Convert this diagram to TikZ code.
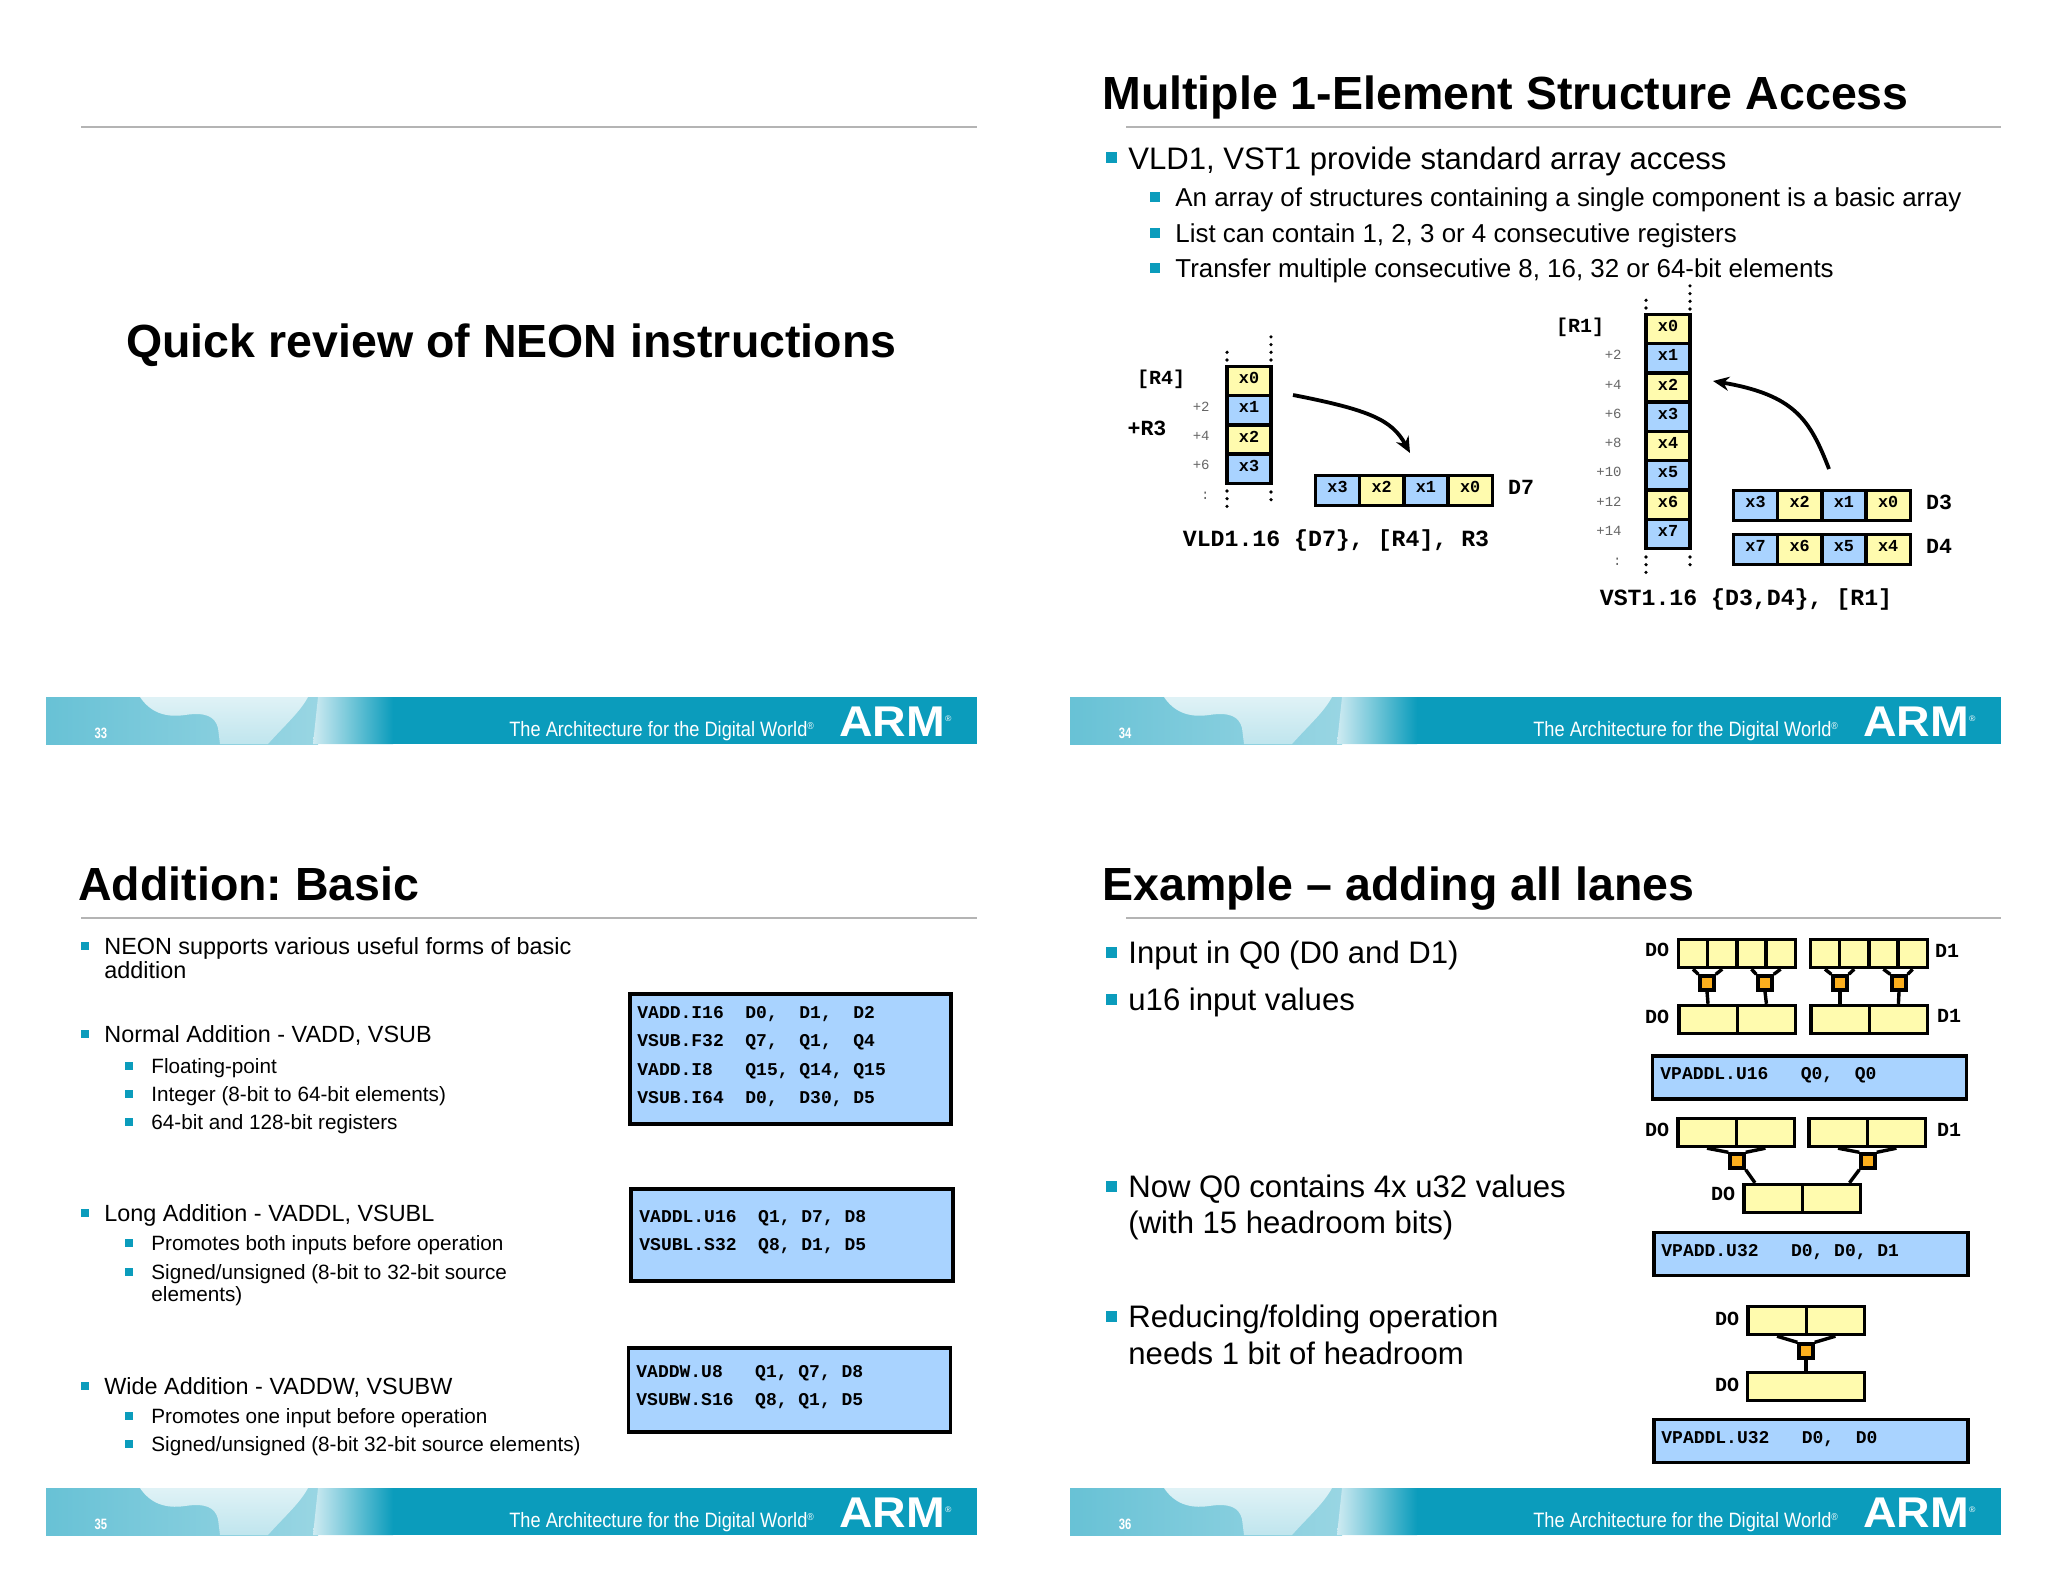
\documentclass[tikz,border=0pt]{standalone}
\usepackage{fontspec}
\setmainfont{Liberation Sans}
\setmonofont{Liberation Mono}
\usetikzlibrary{arrows.meta}
\definecolor{lanecol}{HTML}{FFFBAE}
\definecolor{wordcol}{HTML}{A9D3FF}
\definecolor{addcol}{HTML}{FBAF1E}
\definecolor{armcol}{HTML}{0B9CBC}
\definecolor{rulecol}{HTML}{B4B4B4}
\tikzset{
  headtxt/.style={anchor=west,inner sep=0,text height=16.7pt,text depth=0pt,font=\fontsize{23.25}{27}\selectfont\bfseries},
  bigtxt/.style={anchor=west,inner sep=0,text height=11.2pt,text depth=0pt,font=\fontsize{15.55}{18}\selectfont},
  smalltxt/.style={anchor=west,inner sep=0,text height=9.3pt,text depth=0pt,font=\fontsize{12.95}{16}\selectfont},
  sidetxt/.style={anchor=west,inner sep=0,text height=8.4pt,text depth=0pt,font=\fontsize{11.7}{14}\selectfont},
  subtxt/.style={anchor=west,inner sep=0,text height=7.5pt,text depth=0pt,font=\fontsize{10.35}{12}\selectfont},
  bigdot/.style={fill=armcol,inner sep=0,minimum size=5.5pt},
  smalldot/.style={fill=armcol,inner sep=0,minimum size=4.8pt},
  sidedot/.style={fill=armcol,inner sep=0,minimum size=4.2pt},
  subdot/.style={fill=armcol,inner sep=0,minimum size=3.6pt},
  cell/.style={draw,line width=1.7pt,inner sep=0,text height=3pt,text depth=.5pt,font=\fontsize{8.4}{10}\selectfont\ttfamily\bfseries},
  memcell/.style={cell,minimum width=22pt,minimum height=14.7pt},
  regcell/.style={cell,minimum width=22.1pt,minimum height=15pt},
  lane/.style={draw,line width=1.7pt,fill=lanecol,inner sep=0,minimum height=14pt},
  addbox/.style={draw,line width=1.7pt,fill=addcol,inner sep=0,minimum size=7pt},
  link/.style={line width=1.7pt},
  codebox/.style={draw,line width=1.9pt,fill=wordcol,inner sep=0},
  codetxt/.style={anchor=west,inner sep=0,align=left,font=\fontsize{9}{14.2}\selectfont\ttfamily\bfseries},
  regname/.style={inner sep=0,font=\fontsize{10.8}{12}\selectfont\ttfamily\bfseries},
  ptrname/.style={regname,font=\fontsize{10}{12}\selectfont\ttfamily\bfseries},
  insname/.style={regname,font=\fontsize{11.6}{13}\selectfont\ttfamily\bfseries},
  offs/.style={anchor=east,inner sep=0,text=black!60,font=\fontsize{7}{8}\selectfont\ttfamily},
  memdots/.style={line width=1.8pt,line cap=round,dash pattern=on 0pt off 3.85pt},
  flow/.style={line width=1.9pt,-{Stealth[length=8pt,width=7pt]}}
}
\begin{document}
\frenchspacing
\begin{tikzpicture}[x=.5pt,y=-.5pt]
\useasboundingbox (0,0) rectangle (2048,1582);
\foreach \bx/\by/\num in {0/0/33,1024/0/34,0/791/35,1024/791/36}{
  \begin{scope}[shift={(\bx,\by)}]
    \fill[armcol] (46,697) rectangle (977,744);
    \shade[left color=armcol!62!white,right color=armcol!42!white] (46,697) rectangle (318,744);
    \shade[top color=armcol!13!white,bottom color=armcol!26!white] (140,697) .. controls (150,712) and (165,718) .. (185,715) .. controls (205,712) and (215,716) .. (218,728) -- (220,744) -- (268,744) .. controls (285,725) and (300,712) .. (308,697) -- cycle;
    \shade[left color=armcol!20!white,right color=armcol] (318,697) -- (393,697) -- (393,744) -- (313,744) -- cycle;
    \node[inner sep=0,text=white,xscale=.75,transform shape,font=\fontsize{7.5}{8}\selectfont\bfseries] (page\num) at (101,733) {\num};
    \node[inner sep=0,text=white,anchor=west,xscale=.875,transform shape,font=\fontsize{10.4}{12}\selectfont] (tag\num) at (509,731) {The Architecture for the Digital World\textsuperscript{\fontsize{5}{5}\selectfont ®}};
    \node[inner sep=0,text=white,anchor=west,xscale=1.08,transform shape,font=\fontsize{21.5}{24}\selectfont\bfseries] (arm\num) at (839,722) {ARM\textsuperscript{\fontsize{4}{4}\selectfont\mdseries ®}};
  \end{scope}
  \draw[rulecol,line width=.8pt] ({81+\bx*1.0205},{127+\by}) -- (977+\bx,127+\by);
}

\node[headtxt] (cover) at (126,341) {Quick review of NEON instructions};
\node[headtxt] (title34) at (1102,93) {Multiple 1-Element Structure Access};
\node[headtxt] (title35) at (78,884) {Addition: Basic};
\node[headtxt] (title36) at (1102,884) {Example -- adding all lanes};

\foreach \y/\t [count=\i] in {158/{VLD1, VST1 provide standard array access}}{
  \node[bigdot] (dota\i) at (1111,\y) {};
  \node[bigtxt] (texta\i) at (1128,\y) {\t};
}
\foreach \y/\t [count=\i] in {197/{An array of structures containing a single component is a basic array},233/{List can contain 1, 2, 3 or 4 consecutive registers},268/{Transfer multiple consecutive 8, 16, 32 or 64-bit elements}}{
  \node[smalldot] (dotb\i) at (1155,\y) {};
  \node[smalltxt] (textb\i) at (1175,\y) {\t};
}
\foreach \y/\t [count=\i] in {946/{NEON supports various useful forms of basic},1034/{Normal Addition - VADD, VSUB},1213/{Long Addition - VADDL, VSUBL},1386/{Wide Addition - VADDW, VSUBW}}{
  \node[sidedot] (dotc\i) at (85,\y) {};
  \node[sidetxt] (textc\i) at (104,\y) {\t};
}
\node[sidetxt] (textc5) at (104,970) {addition};
\foreach \y/\t [count=\i] in {1066/{Floating-point},1094/{Integer (8-bit to 64-bit elements)},1122/{64-bit and 128-bit registers},1243/{Promotes both inputs before operation},1272/{Signed/unsigned (8-bit to 32-bit source},1416/{Promotes one input before operation},1444/{Signed/unsigned (8-bit 32-bit source elements)}}{
  \node[subdot] (dotd\i) at (129,\y) {};
  \node[subtxt] (textd\i) at (151,\y) {\t};
}
\node[subtxt] (textd8) at (151,1294) {elements)};
\foreach \y/\t [count=\i] in {952/{Input in Q0 (D0 and D1)},999/{u16 input values},1186/{Now Q0 contains 4x u32 values},1316/{Reducing/folding operation}}{
  \node[bigdot] (dote\i) at (1111,\y) {};
  \node[bigtxt] (texte\i) at (1128,\y) {\t};
}
\node[bigtxt] (texte5) at (1128,1222) {(with 15 headroom bits)};
\node[bigtxt] (texte6) at (1128,1353) {needs 1 bit of headroom};

\foreach \t/\c [count=\i from 0] in {x0/lanecol,x1/wordcol,x2/lanecol,x3/wordcol}
  \node[memcell,fill=\c] (mema\i) at (1249,{381+29.3*\i}) {\t};
\foreach \n/\c [count=\i from 0] in {x3/wordcol,x2/lanecol,x1/wordcol,x0/lanecol}
  \node[regcell,fill=\c] (regd\i) at ({1337.5+44.2*\i},490.5) {\n};
\foreach \t/\y [count=\i] in {+2/407,+4/436,+6/465}
  \node[offs] (offa\i) at (1210,\y) {\t};
\node[offs] (offa4) at (1210,496) {:};
\node[ptrname] (ptra) at (1161,379) {[R4]};
\node[regname] (stepa) at (1147,428) {+R3};
\node[regname] (named) at (1521,487) {D7};
\node[insname] (insa) at (1336,541) {VLD1.16 \{D7\}, [R4], R3};
\draw[memdots] (1227,360) -- (1227,350);
\draw[memdots] (1271,360) -- (1271,336);
\draw[memdots] (1227,491) -- (1227,508);
\draw[memdots] (1271,492) -- (1271,501);
\coordinate (loadfrom) at (1293,395);
\coordinate (loadto) at (1410,453);
\draw[flow] (loadfrom) .. controls (1370,410) and (1392,420) .. (loadto);

\foreach \t/\c [count=\i from 0] in {x0/lanecol,x1/wordcol,x2/lanecol,x3/wordcol,x4/lanecol,x5/wordcol,x6/lanecol,x7/wordcol}
  \node[memcell,fill=\c] (memb\i) at (1668,{329+29.3*\i}) {\t};
\foreach \n/\c [count=\i from 0] in {x3/wordcol,x2/lanecol,x1/wordcol,x0/lanecol}
  \node[regcell,fill=\c] (regl\i) at ({1755.5+44.2*\i},505.5) {\n};
\foreach \n/\c [count=\i from 0] in {x7/wordcol,x6/lanecol,x5/wordcol,x4/lanecol}
  \node[regcell,fill=\c] (regh\i) at ({1755.5+44.2*\i},549.5) {\n};
\foreach \t/\y [count=\i] in {+2/355,+4/385,+6/414,+8/443,+10/472,+12/502,+14/531}
  \node[offs] (offb\i) at (1622,\y) {\t};
\node[offs] (offb8) at (1622,562) {:};
\node[ptrname] (ptrb) at (1580,327) {[R1]};
\node[regname] (namel) at (1939,502) {D3};
\node[regname] (nameh) at (1939,546) {D4};
\node[insname] (insb) at (1746,600) {VST1.16 \{D3,D4\}, [R1]};
\draw[memdots] (1646,308) -- (1646,298);
\draw[memdots] (1690,309) -- (1690,285);
\draw[memdots] (1646,557) -- (1646,574);
\draw[memdots] (1690,557) -- (1690,566);
\coordinate (storefrom) at (1829,469);
\coordinate (storeto) at (1713,381);
\draw[flow] (storefrom) .. controls (1810,420) and (1795,395) .. (storeto);

\node[codebox,minimum width=160.5pt,minimum height=65pt] (boxplain) at (790.5,1059) {};
\node[codetxt] (codeplain) at (637,1056.5) {VADD.I16~~D0,~~D1,~~D2\\VSUB.F32~~Q7,~~Q1,~~Q4\\VADD.I8~~~Q15,~Q14,~Q15\\VSUB.I64~~D0,~~D30,~D5};
\node[codebox,minimum width=161pt,minimum height=46pt] (boxlong) at (792,1235) {};
\node[codetxt] (codelong) at (639,1232.5) {VADDL.U16~~Q1,~D7,~D8\\VSUBL.S32~~Q8,~D1,~D5};
\node[codebox,minimum width=161pt,minimum height=42pt] (boxwide) at (789.5,1390) {};
\node[codetxt] (codewide) at (636,1387.5) {VADDW.U8~~~Q1,~Q7,~D8\\VSUBW.S16~~Q8,~Q1,~D5};

\foreach \i in {0,...,3}{
  \node[lane,minimum width=14.6pt] (a\i) at ({1693+29.2*\i},953.5) {};
  \node[lane,minimum width=14.6pt] (c\i) at ({1825+29.2*\i},953.5) {};
}
\foreach \i in {0,1}{
  \node[lane,minimum width=29.2pt] (b\i) at ({1708+58.4*\i},1019.5) {};
  \node[lane,minimum width=29.2pt] (d\i) at ({1840+58.4*\i},1019.5) {};
  \node[lane,minimum width=29.2pt] (e\i) at ({1707+58.4*\i},1132.5) {};
  \node[lane,minimum width=29.2pt] (f\i) at ({1838+58.4*\i},1132.5) {};
  \node[lane,minimum width=29.2pt] (g\i) at ({1773+58.4*\i},1198.5) {};
  \node[lane,minimum width=29.2pt] (h\i) at ({1777+58.4*\i},1320.5) {};
}
\node[lane,minimum width=58.4pt] (sum) at (1806,1386.5) {};
\foreach \n/\x/\l/\r/\o in {p/1707/a0/a1/b0,q/1765/a2/a3/b1,r/1840/c0/c1/d0,s/1899/c2/c3/d1}{
  \node[addbox] (\n) at (\x,983) {};
  \draw[link] (\n.north west) -- (\l.south);
  \draw[link] (\n.north east) -- (\r.south);
  \draw[link] (\n.south) -- (\o.north);
}
\node[addbox] (t) at (1737,1161) {};
\node[addbox] (u) at (1868,1161) {};
\node[addbox] (v) at (1806,1351) {};
\draw[link] (t.north west) -- (e0.south);
\draw[link] (t.north east) -- (e1.south);
\draw[link] (u.north west) -- (f0.south);
\draw[link] (u.north east) -- (f1.south);
\draw[link] (t.south east) -- (g0.139);
\draw[link] (u.south west) -- (g1.41);
\draw[link] (v.north west) -- (h0.south);
\draw[link] (v.north east) -- (h1.south);
\draw[link] (v.south) -- (sum.north);
\foreach \t/\x/\y [count=\i] in {DO/1657/950,DO/1657/1017,D1/1947/951,D1/1949/1016,DO/1657/1130,D1/1949/1130,DO/1723/1194,DO/1727/1319,DO/1727/1385}
  \node[ptrname] (lab\i) at (\x,\y) {\t};
\node[codebox,line width=1.7pt,minimum width=157pt,minimum height=21.5pt] (boxq) at (1809.5,1077.5) {};
\node[codetxt] (codeq) at (1660,1075.5) {VPADDL.U16~~~Q0,~~Q0};
\node[codebox,line width=1.7pt,minimum width=157pt,minimum height=21.5pt] (boxd) at (1811,1254) {};
\node[codetxt] (coded) at (1661,1252.5) {VPADD.U32~~~D0,~D0,~D1};
\node[codebox,line width=1.7pt,minimum width=157pt,minimum height=21.5pt] (boxs) at (1811,1441) {};
\node[codetxt] (codes) at (1661,1439.5) {VPADDL.U32~~~D0,~~D0};
\end{tikzpicture}
\end{document}
